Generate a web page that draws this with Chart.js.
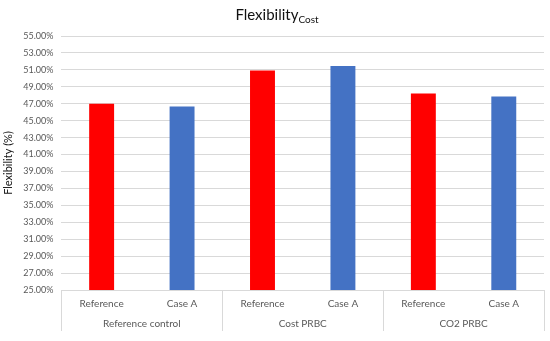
<!DOCTYPE html>
<html lang="en">
  <head>
    <meta charset="UTF-8" />
    <title>Flexibility Cost</title>
    <style>
      html, body { margin: 0; padding: 0; background: #fff; }
      #wrap { width: 550px; height: 341px; }
    </style>
  </head>
  <body>
    <div id="wrap">
      <canvas id="myChart"></canvas>
    </div>
    <script src="https://cdn.jsdelivr.net/npm/chart.js"></script>
    <script>
        const groups = ["Reference control", "Cost PRBC", "CO2 PRBC"];
        const cases = ["Reference", "Case A"];
        const referenceValues = [47.0, 50.92, 48.2];
        const caseAValues = [46.68, 51.47, 47.86];
        const yTicks = [25, 27, 29, 31, 33, 35, 37, 39, 41, 43, 45, 47, 49, 51, 53, 55];

        const caseColors = ["#ff0000", "#4472c4"];
        const fontFamily = "Lato, 'Open Sans', sans-serif";
        const gridColor = "#d9d9d9";

        // one bar per (group, case) pair
        const labels = [];
        const values = [];
        const colors = [];
        groups.forEach((g, i) => {
            labels.push(cases[0]); values.push(referenceValues[i]); colors.push(caseColors[0]);
            labels.push(cases[1]); values.push(caseAValues[i]); colors.push(caseColors[1]);
        });

        // title with subscript, drawn by hand
        const subTitle = {
            id: 'subTitle',
            afterDraw(chart) {
                const ctx = chart.ctx;
                ctx.save();
                ctx.fillStyle = "#111";
                ctx.textBaseline = "alphabetic";
                const main = "Flexibility";
                ctx.font = "15px " + fontFamily;
                const w1 = ctx.measureText(main).width;
                ctx.font = "10px " + fontFamily;
                const w2 = ctx.measureText("Cost").width;
                const x0 = chart.width / 2 - (w1 + w2) / 2 + 2;
                ctx.font = "15px " + fontFamily;
                ctx.fillText(main, x0, 20);
                ctx.font = "10px " + fontFamily;
                ctx.fillText("Cost", x0 + w1, 23);
                ctx.restore();
            }
        };

        // vertical separators of the two-level category axis
        const groupLines = {
            id: 'groupLines',
            afterDraw(chart) {
                const {ctx, chartArea} = chart;
                const x = chart.scales.x;
                const xs = [chartArea.left];
                for (let i = 1; i < groups.length; i++) {
                    xs.push((x.getPixelForValue(2 * i - 1) + x.getPixelForValue(2 * i)) / 2);
                }
                xs.push(chartArea.right);
                ctx.save();
                ctx.strokeStyle = gridColor;
                ctx.lineWidth = 1;
                xs.forEach(px => {
                    const p = Math.round(px) + 0.5;
                    ctx.beginPath();
                    ctx.moveTo(p, chartArea.bottom);
                    ctx.lineTo(p, chartArea.bottom + 41);
                    ctx.stroke();
                });
                ctx.restore();
            }
        };

        const config = {
            type: "bar",
            data: {
                labels: labels,
                datasets: [{
                    data: values,
                    backgroundColor: colors,
                    borderWidth: 0,
                    barPercentage: 0.31,
                    categoryPercentage: 1.0
                }]
            },
            plugins: [subTitle, groupLines],
            options: {
                responsive: true,
                maintainAspectRatio: false,
                animation: false,
                layout: { padding: { top: 36, right: 6, left: 2, bottom: 11 } },
                plugins: {
                    legend: { display: false },
                    tooltip: { enabled: false }
                },
                scales: {
                    y: {
                        min: yTicks[0],
                        max: yTicks[yTicks.length - 1],
                        afterBuildTicks(scale) {
                            scale.ticks = yTicks.map(v => ({ value: v }));
                        },
                        border: { display: false },
                        grid: { color: gridColor, drawTicks: false },
                        ticks: {
                            padding: 8,
                            color: "#595959",
                            font: { family: fontFamily, size: 9 },
                            callback: v => v.toFixed(2) + "%"
                        },
                        title: {
                            display: true,
                            text: "Flexibility (%)",
                            color: "#111",
                            padding: { top: 0, bottom: 0 },
                            font: { family: fontFamily, size: 11 }
                        }
                    },
                    x: {
                        border: { display: false },
                        grid: { display: false },
                        ticks: {
                            padding: 0,
                            maxRotation: 0,
                            color: "#595959",
                            font: { family: fontFamily, size: 10 }
                        }
                    },
                    x2: {
                        type: "category",
                        position: "bottom",
                        labels: groups,
                        offset: true,
                        border: { display: false },
                        grid: { display: false },
                        ticks: {
                            padding: 0,
                            maxRotation: 0,
                            color: "#595959",
                            font: { family: fontFamily, size: 10 }
                        }
                    }
                }
            }
        };

        const myChart = new Chart(document.getElementById("myChart"), config);
    </script>
  </body>
</html>
